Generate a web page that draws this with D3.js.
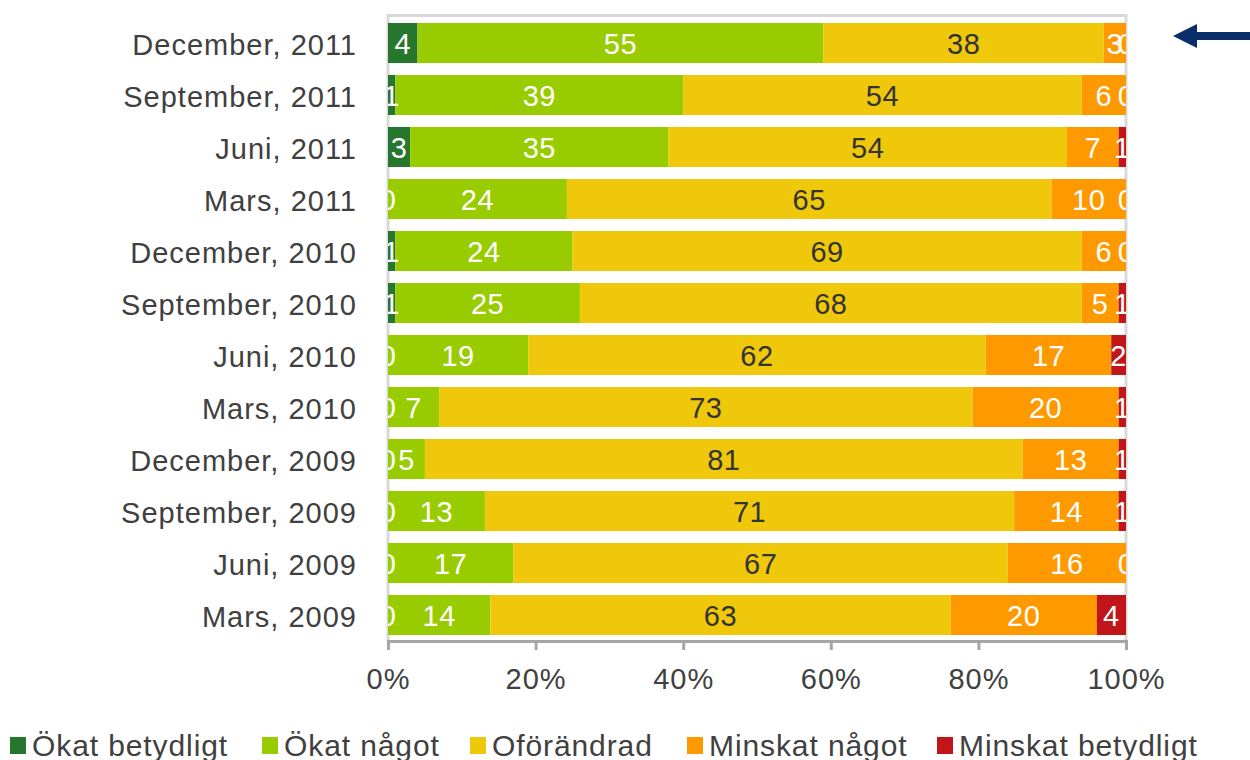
<!DOCTYPE html>
<html>
<head>
<meta charset="utf-8">
<script src="https://cdn.jsdelivr.net/npm/d3@7"></script>
<style>
  body { margin: 0; background: #fff; }
  svg { display: block; font-family: 'Liberation Sans', Arial, sans-serif; }
</style>
</head>
<body>
<svg id="chart" width="1250" height="760"></svg>
<script>
// survey rounds, newest first
const categories = ['December, 2011', 'September, 2011', 'Juni, 2011', 'Mars, 2011',
  'December, 2010', 'September, 2010', 'Juni, 2010', 'Mars, 2010',
  'December, 2009', 'September, 2009', 'Juni, 2009', 'Mars, 2009']

const okatBetydligt = [4, 1, 3, 0, 1, 1, 0, 0, 0, 0, 0, 0]
const okatNagot = [55, 39, 35, 24, 24, 25, 19, 7, 5, 13, 17, 14]
const oforandrad = [38, 54, 54, 65, 69, 68, 62, 73, 81, 71, 67, 63]
const minskatNagot = [3, 6, 7, 10, 6, 5, 17, 20, 13, 14, 16, 20]
const minskatBetydligt = [0, 0, 1, 0, 0, 1, 2, 1, 1, 1, 0, 4]

const seriesNames = ['Ökat betydligt', 'Ökat något', 'Oförändrad', 'Minskat något', 'Minskat betydligt']
const seriesValues = [okatBetydligt, okatNagot, oforandrad, minskatNagot, minskatBetydligt]
const colors = ['#27762d', '#99cc00', '#efc70b', '#ff9900', '#c0161a']
const labelColors = ['#fff', '#fff', '#333', '#fff', '#fff']

const tickValues = [0, 0.2, 0.4, 0.6, 0.8, 1]

// table for d3.stack
const table = categories.map((c, i) => {
  const row = { category: c }
  seriesNames.forEach((s, j) => { row[s] = seriesValues[j][i] })
  return row
})

const svg = d3.select('#chart')
const margin = { left: 388, right: 124, top: 17, bottom: 119 }
const width = 1250 - margin.left - margin.right
const height = 760 - margin.top - margin.bottom

const x = d3.scaleLinear().domain([0, 1]).range([margin.left, margin.left + width])
const y = d3.scaleBand().domain(categories)
  .range([margin.top, margin.top + height])
  .paddingInner(0.23).paddingOuter(0.115)

const stacked = d3.stack()
  .keys(seriesNames)
  .offset(d3.stackOffsetExpand)(table)

// plot frame
const frame = svg.append('g').attr('class', 'frame')
frame.append('path')
  .attr('d', `M${x(0)},${margin.top + height}V${margin.top - 1.5}H${x(1)}V${margin.top + height}`)
  .attr('fill', 'none')
  .attr('stroke', '#d9d9d9')
  .attr('stroke-width', 3)

svg.append('defs').append('clipPath')
  .attr('id', 'plot-clip')
  .append('rect')
  .attr('x', x(0))
  .attr('y', margin.top)
  .attr('width', width)
  .attr('height', height)

// bars
const layers = svg.append('g')
  .selectAll('g')
  .data(stacked)
  .join('g')
  .attr('fill', (d, i) => colors[i])

layers.selectAll('rect')
  .data(d => d)
  .join('rect')
  .attr('x', d => x(d[0]))
  .attr('y', d => y(d.data.category))
  .attr('width', d => x(d[1]) - x(d[0]))
  .attr('height', y.bandwidth())

// bottom axis
const axis = svg.append('g')
  .attr('transform', `translate(0, ${margin.top + height})`)
  .call(d3.axisBottom(x).tickValues(tickValues).tickFormat(d3.format('.0%')).tickSize(9).tickPadding(18))

axis.select('.domain').attr('stroke', '#a6a6a6').attr('stroke-width', 3)
axis.selectAll('.tick line').attr('stroke', '#a6a6a6').attr('stroke-width', 3)
axis.selectAll('.tick text')
  .attr('font-size', '29px')
  .attr('font-family', 'Liberation Sans, Arial, sans-serif')
  .attr('fill', '#404040')
  .attr('letter-spacing', '1px')

// value labels
const labels = svg.append('g').attr('clip-path', 'url(#plot-clip)')
stacked.forEach((layer, i) => {
  labels.selectAll(null)
    .data(layer)
    .join('text')
    .attr('x', d => (x(d[0]) + x(d[1])) / 2)
    .attr('y', d => y(d.data.category) + y.bandwidth() / 2)
    .attr('dy', '0.37em')
    .attr('text-anchor', 'middle')
    .attr('font-size', '29px')
    .attr('letter-spacing', '0.5px')
    .attr('fill', labelColors[i])
    .text(d => d.data[layer.key])
})

// category labels
svg.append('g')
  .selectAll('text')
  .data(categories)
  .join('text')
  .attr('x', x(0) - 31)
  .attr('y', d => y(d) + y.bandwidth() / 2)
  .attr('dy', '0.4em')
  .attr('text-anchor', 'end')
  .attr('font-size', '29px')
  .attr('letter-spacing', '1px')
  .attr('fill', '#404040')
  .text(d => d)

// legend
const legendX = [10, 262, 470, 687, 937]
const legend = svg.append('g')
  .selectAll('g')
  .data(seriesNames)
  .join('g')
  .attr('transform', (d, i) => `translate(${legendX[i]}, 737)`)

legend.append('rect')
  .attr('width', 16)
  .attr('height', 17)
  .attr('fill', (d, i) => colors[i])

legend.append('text')
  .attr('x', 22)
  .attr('y', 19)
  .attr('font-size', '30px')
  .attr('letter-spacing', '0.9px')
  .attr('fill', '#404040')
  .text(d => d)

// arrow pointing at the latest round
svg.append('path')
  .attr('d', 'M1173,36 L1197,24 L1197,32 L1250,32 L1250,40 L1197,40 L1197,48 Z')
  .attr('fill', '#0b2e6b')
</script>
</body>
</html>
